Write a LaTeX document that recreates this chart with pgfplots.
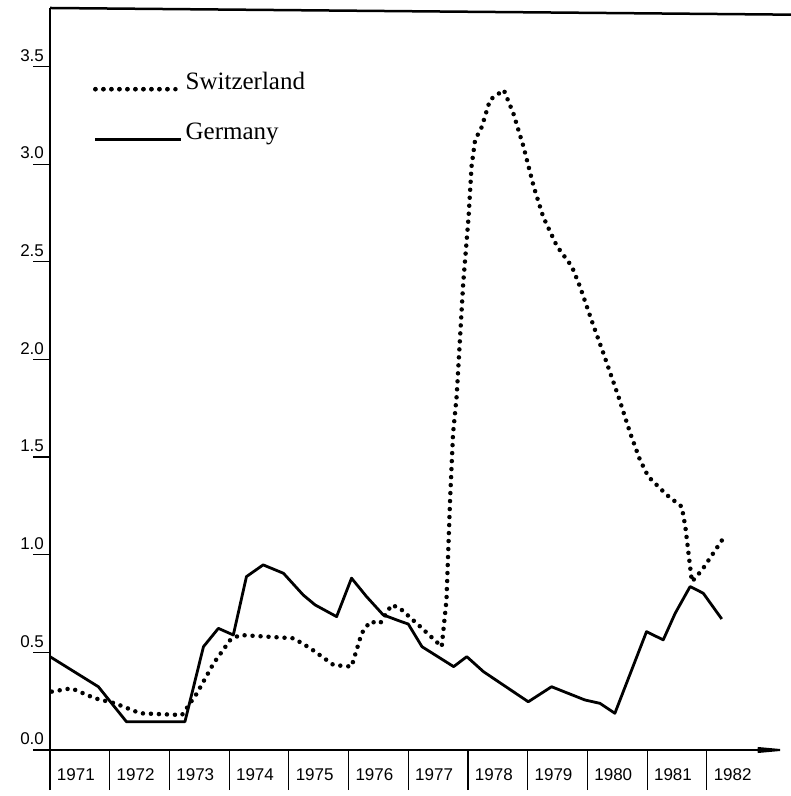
\documentclass[border=0pt]{standalone}
\usepackage{pgfplots}
\pgfplotsset{compat=1.18}
\usepackage{fontspec}
\setmainfont{Liberation Serif}
\newfontfamily\hv{Liberation Sans}
\usetikzlibrary{arrows.meta}

\begin{document}
\begin{tikzpicture}[x=1bp,y=1bp]
\useasboundingbox (-50,-46) rectangle (741,750);
\begin{axis}[
  at={(0,0)}, anchor=south west,
  scale only axis, width=741bp, height=742bp,
  xmin=1971, xmax=1983.41, ymin=0, ymax=3.80,
  axis x line*=bottom, axis y line=none,
  x axis line style={draw=none},
  xtick={1971,1972,1973,1974,1975,1976,1977,1978,1979,1980,1981,1982},
  xticklabels={},
  tick align=outside,
  major tick length=40bp,
  x tick style={black, line width=1.2bp},
]
\end{axis}
\begin{axis}[
  at={(0,0)}, anchor=south west,
  scale only axis, width=741bp, height=742bp,
  xmin=1971, xmax=1983.41, ymin=0, ymax=3.80,
  axis x line*=bottom, axis y line*=left,
  x axis line style={line width=2bp, -{Stealth[length=44bp,width=8bp]}},
  y axis line style={line width=2.5bp},
  tick align=outside,
  major tick length=17bp,
  ytick={0,0.5,1,1.5,2,2.5,3,3.5},
  yticklabels={0.0,0.5,1.0,1.5,2.0,2.5,3.0,3.5},
  y tick style={line width=1.2bp, black},
  yticklabel style={font=\hv\fontsize{17bp}{19bp}\selectfont, anchor=south east, inner sep=0pt, xshift=11bp, yshift=5bp},
  xtick={1971.5,1972.5,1973.5,1974.5,1975.5,1976.5,1977.5,1978.5,1979.5,1980.5,1981.5,1982.5},
  xticklabels={1971,1972,1973,1974,1975,1976,1977,1978,1979,1980,1981,1982},
  x tick style={draw=none},
  xticklabel style={font=\hv\fontsize{17bp}{19bp}\selectfont, anchor=north, inner sep=0pt, yshift=-1bp, xshift=-4bp},
  clip=false,
  legend style={at={(axis description cs:0.058,0.917)}, anchor=north west, draw=none, fill=none,
     font=\fontsize{25bp}{28bp}\selectfont, inner sep=0pt, row sep=28bp},
  legend cell align=left,
  legend image code/.code={\path (0bp,-8bp) -- (86bp,-8bp); \draw[#1] (0bp,-8bp) -- (77bp,-8bp);},
]
\addplot[black, line width=4.5bp, line cap=round, dash pattern=on 0bp off 8bp] coordinates {
(1971.03,0.299) (1971.36,0.316) (1971.75,0.265) (1972.09,0.239) (1972.51,0.188)
(1973.21,0.179) (1973.46,0.290) (1973.74,0.444) (1974.02,0.564) (1974.18,0.589)
(1975.08,0.572) (1975.36,0.521) (1975.75,0.435) (1976.05,0.427) (1976.22,0.598)
(1976.36,0.657) (1976.53,0.649) (1976.72,0.743) (1976.86,0.726) (1977.20,0.632)
(1977.56,0.529) (1977.64,0.768) (1977.70,1.28) (1977.75,1.62) (1977.81,1.81)
(1977.92,2.39) (1978.01,2.73) (1978.06,2.99) (1978.12,3.125) (1978.23,3.19)
(1978.37,3.33) (1978.60,3.38) (1978.76,3.26) (1978.93,3.09) (1979.10,2.886)
(1979.26,2.73) (1979.49,2.58) (1979.74,2.476) (1979.88,2.37) (1980.07,2.20)
(1980.27,2.03) (1980.52,1.81) (1980.72,1.62) (1980.88,1.486) (1981.02,1.40)
(1981.33,1.306) (1981.58,1.246) (1981.64,1.144) (1981.75,0.862) (1981.92,0.922)
(1982.31,1.10)
};
\addlegendentry{Switzerland}
\addplot[black, line width=2.8bp, line join=round] coordinates {
(1971.00,0.478) (1971.81,0.324) (1972.28,0.145) (1973.26,0.145) (1973.57,0.529)
(1973.82,0.623) (1974.07,0.589) (1974.29,0.888) (1974.57,0.948) (1974.91,0.905)
(1975.24,0.794) (1975.44,0.743) (1975.80,0.683) (1976.05,0.880) (1976.30,0.786)
(1976.58,0.692) (1976.86,0.660) (1977.00,0.645) (1977.23,0.529) (1977.76,0.427)
(1977.98,0.478) (1978.26,0.401) (1979.01,0.247) (1979.40,0.324) (1979.96,0.256)
(1980.21,0.239) (1980.46,0.188) (1980.99,0.606) (1981.27,0.564) (1981.47,0.700)
(1981.72,0.837) (1981.94,0.803) (1982.25,0.671)
};
\addlegendentry{Germany}
\draw[line width=2.5bp] (rel axis cs:0,1) -- (rel axis cs:1,0.991);
\end{axis}
\end{tikzpicture}
\end{document}
